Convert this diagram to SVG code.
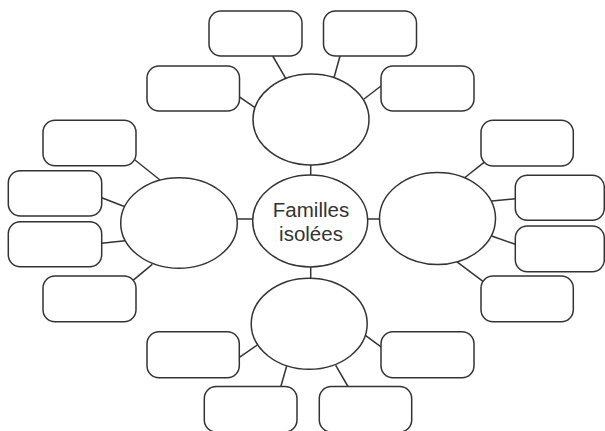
<svg xmlns="http://www.w3.org/2000/svg" width="605" height="431" viewBox="0 0 605 431">
<style>
.b{fill:#fff;stroke:#333;stroke-width:1.5}
.c line{stroke:#333;stroke-width:1.5}
.t{font-family:"Liberation Sans",Arial,sans-serif;font-size:20.5px;fill:#333;text-anchor:middle}
</style>
<rect width="605" height="431" fill="#fff"/>
<g class="c" id="connectors">
<line x1="310.7" y1="164" x2="310.7" y2="176"/>
<line x1="310.7" y1="266" x2="310.7" y2="279"/>
<line x1="236.5" y1="219" x2="253.5" y2="219"/>
<line x1="367" y1="219" x2="380" y2="219"/>
<line x1="272.7" y1="56" x2="285.7" y2="78.3"/>
<line x1="340" y1="56" x2="334" y2="77.7"/>
<line x1="239" y1="96.7" x2="255" y2="107.7"/>
<line x1="381" y1="86" x2="364" y2="99"/>
<line x1="135" y1="160" x2="160" y2="180"/>
<line x1="101.7" y1="197.7" x2="125" y2="206.7"/>
<line x1="101.7" y1="243.3" x2="125" y2="240.7"/>
<line x1="132.7" y1="280.7" x2="152.3" y2="264.3"/>
<line x1="464.3" y1="178" x2="485" y2="161.7"/>
<line x1="491.7" y1="201" x2="515.3" y2="198.7"/>
<line x1="491.7" y1="236" x2="515.3" y2="244.3"/>
<line x1="456.7" y1="261.7" x2="483.3" y2="281.7"/>
<line x1="239" y1="357.7" x2="257.3" y2="345"/>
<line x1="365.7" y1="335.7" x2="381.7" y2="347.3"/>
<line x1="280.7" y1="387" x2="286.7" y2="366"/>
<line x1="348.3" y1="387" x2="335.7" y2="365.3"/>
</g>
<g id="center"><ellipse class="b" cx="310.2" cy="221" rx="57.5" ry="46"/>
<text class="t" x="311" y="216.7">Familles</text>
<text class="t" x="311" y="240.7">isolées</text></g>
<g id="e-top"><ellipse class="b" cx="311" cy="119.5" rx="58" ry="45.5"/></g>
<g id="e-left"><ellipse class="b" cx="179" cy="223" rx="58.3" ry="45.3"/></g>
<g id="e-right"><ellipse class="b" cx="437.5" cy="218.5" rx="58" ry="46"/></g>
<g id="e-bottom"><ellipse class="b" cx="309.2" cy="323.8" rx="58" ry="45.5"/></g>
<g id="r-t1"><rect class="b" x="209" y="11" width="93" height="45" rx="12"/></g>
<g id="r-t2"><rect class="b" x="323.5" y="11" width="93" height="45" rx="12"/></g>
<g id="r-t3"><rect class="b" x="147" y="66" width="92.5" height="45" rx="12"/></g>
<g id="r-t4"><rect class="b" x="381" y="66" width="93" height="45" rx="12"/></g>
<g id="r-l1"><rect class="b" x="43" y="120.3" width="93" height="45.5" rx="12"/></g>
<g id="r-l2"><rect class="b" x="8.3" y="170.7" width="93.4" height="45.3" rx="12"/></g>
<g id="r-l3"><rect class="b" x="8.3" y="221.7" width="93.4" height="45" rx="12"/></g>
<g id="r-l4"><rect class="b" x="43" y="276" width="93" height="45.7" rx="12"/></g>
<g id="r-r1"><rect class="b" x="481" y="120.3" width="92.3" height="45.7" rx="12"/></g>
<g id="r-r2"><rect class="b" x="515.3" y="175.3" width="89" height="45" rx="12"/></g>
<g id="r-r3"><rect class="b" x="515.3" y="226" width="89" height="45.7" rx="12"/></g>
<g id="r-r4"><rect class="b" x="481" y="276" width="92.3" height="45.7" rx="12"/></g>
<g id="r-b1"><rect class="b" x="147" y="331.7" width="92.3" height="46" rx="12"/></g>
<g id="r-b2"><rect class="b" x="381" y="331.7" width="93" height="46" rx="12"/></g>
<g id="r-b3"><rect class="b" x="204.3" y="386.5" width="92.7" height="45.5" rx="12"/></g>
<g id="r-b4"><rect class="b" x="319.3" y="386.5" width="92.4" height="45.5" rx="12"/></g>
</svg>
